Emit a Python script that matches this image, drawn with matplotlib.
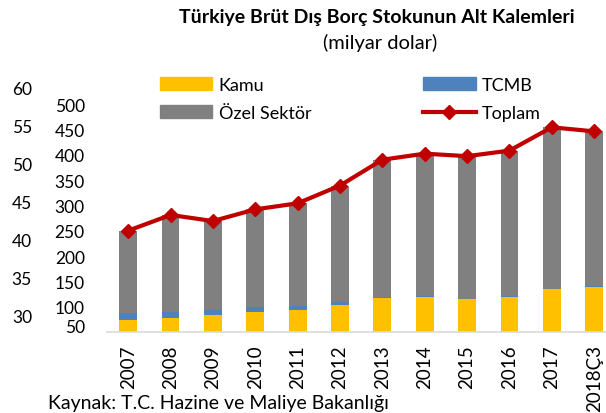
import matplotlib.pyplot as plt
from matplotlib.patches import Patch
from matplotlib.lines import Line2D

yillar = ['2007', '2008', '2009', '2010', '2011', '2012', '2013', '2014',
          '2015', '2016', '2017', '2018Ç3']
kamu = [73, 78, 83, 89, 94, 104, 118, 120, 115, 120, 135, 139]
tcmb = [15, 12, 11, 10, 8, 5, 2, 1, 1, 0.5, 0.5, 1]
ozel = [162, 191, 175, 193, 202, 230, 270, 281, 281, 287.5, 318.5, 306]
toplam = [250, 281, 269, 292, 304, 339, 390, 402, 397, 408, 454, 446]
sol_ticks = [30, 35, 40, 45, 50, 55, 60]
ic_ticks = [50, 100, 150, 200, 250, 300, 350, 400, 450, 500]

plt.rcParams['font.family'] = ['Lato', 'DejaVu Sans']

renk_kamu = '#FFC000'
renk_tcmb = '#4F81BD'
renk_ozel = '#808080'
renk_top = '#C00000'

fig = plt.figure(figsize=(6.06, 4.14), dpi=100)
ax = fig.add_axes([107 / 606, 1 - 333 / 414, 1 - 107 / 606, (333 - 105) / 414])

x = list(range(len(yillar)))
alt2 = [k + t for k, t in zip(kamu, tcmb)]
w = 0.42
ax.bar(x, kamu, width=w, color=renk_kamu, zorder=2)
ax.bar(x, tcmb, width=w, bottom=kamu, color=renk_tcmb, zorder=2)
ax.bar(x, ozel, width=w, bottom=alt2, color=renk_ozel, zorder=2)
ax.plot(x, toplam, color=renk_top, lw=3, marker='D', markersize=7.5, zorder=3)

ax.set_yticks(ic_ticks)
ax.set_ylim(50, 500)
ax.set_xticks(x)
ax.set_xticklabels(yillar, rotation=90, fontsize=13.5)
ax.set_xlim(-0.5, 11.28)
ax.tick_params(axis='y', length=0, pad=16, labelsize=12.5)
ax.tick_params(axis='x', length=0, pad=9)
ax.get_yticklabels()[0].set_va('baseline')
for s in ['top', 'right', 'left']:
    ax.spines[s].set_visible(False)
ax.spines['bottom'].set_color('#D9D9D9')
ax.spines['bottom'].set_linewidth(1.2)

# ikinci (sol dış) eksen - 60 etiketi için biraz daha uzun
ax2 = fig.add_axes([107 / 606, 1 - 333 / 414, 0.01, (333 - 80) / 414])
ax2.set_yticks(sol_ticks)
ax2.set_ylim(27.9, 61.05)
ax2.set_xticks([])
ax2.tick_params(axis='y', length=0, pad=54, labelsize=12.5)
for s in ['top', 'right', 'left', 'bottom']:
    ax2.spines[s].set_visible(False)
ax2.patch.set_visible(False)

fig.text(377 / 606, 1 - 17 / 414, 'Türkiye Brüt Dış Borç Stokunun Alt Kalemleri',
         ha='center', va='center', fontsize=14, fontweight='bold')
fig.text(380 / 606, 1 - 43 / 414, '(milyar dolar)', ha='center', va='center', fontsize=14.5)

handles = [Patch(color=renk_kamu), Patch(color=renk_ozel), Patch(color=renk_tcmb),
           Line2D([], [], color=renk_top, lw=3, marker='D', markersize=7.5)]
labels = ['Kamu', 'Özel Sektör', 'TCMB', 'Toplam']
fig.legend(handles, labels, ncol=2, loc='upper left', bbox_to_anchor=(160 / 606, 1 - 78 / 414),
           frameon=False, fontsize=13, borderpad=0, borderaxespad=0, handlelength=2.9,
           handleheight=0.7, handletextpad=0.35, columnspacing=6.2, labelspacing=0.67)

fig.text(48 / 606, 1 - 404 / 414, 'Kaynak: T.C. Hazine ve Maliye Bakanlığı',
         ha='left', va='center', fontsize=14)

fig.savefig('out.png', dpi=100)
